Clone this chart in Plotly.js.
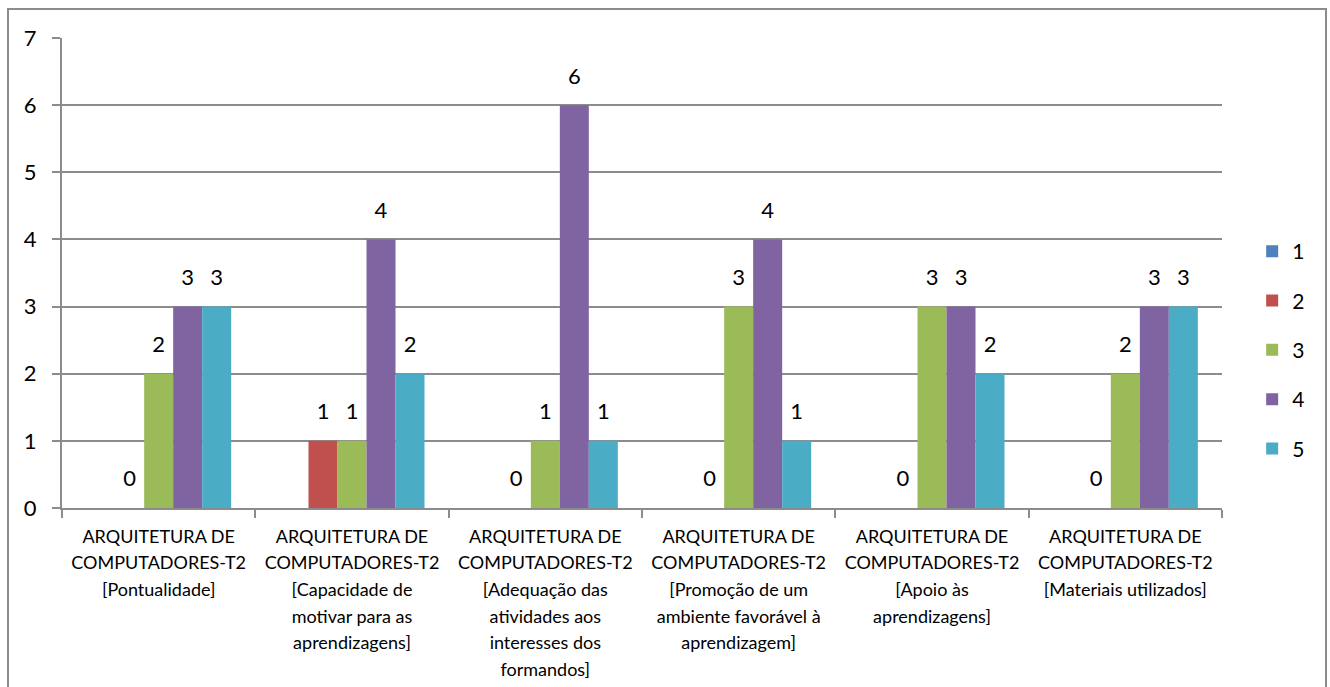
<!DOCTYPE html>
<html>
<head>
<meta charset="utf-8">
<script src="https://cdn.plot.ly/plotly-3.0.1.min.js"></script>
<style>
  html, body { margin: 0; padding: 0; background: #fff; }
  #wrap { position: relative; width: 1330px; height: 687px; overflow: hidden; }
  #chart { width: 1330px; height: 687px; }
  #frame { position: absolute; left: 7px; top: 8px; width: 1316px; height: 700px;
           border: 2px solid #8c8c8c; pointer-events: none; }
</style>
</head>
<body>
<div id="wrap">
  <div id="chart"></div>
  <div id="frame"></div>
</div>
<script>
const categories = [
  "ARQUITETURA DE<br>COMPUTADORES-T2<br>[Pontualidade]",
  "ARQUITETURA DE<br>COMPUTADORES-T2<br>[Capacidade de<br>motivar para as<br>aprendizagens]",
  "ARQUITETURA DE<br>COMPUTADORES-T2<br>[Adequação das<br>atividades aos<br>interesses dos<br>formandos]",
  "ARQUITETURA DE<br>COMPUTADORES-T2<br>[Promoção de um<br>ambiente favorável à<br>aprendizagem]",
  "ARQUITETURA DE<br>COMPUTADORES-T2<br>[Apoio às<br>aprendizagens]",
  "ARQUITETURA DE<br>COMPUTADORES-T2<br>[Materiais utilizados]"
];
const seriesNames = ["1", "2", "3", "4", "5"];
const series1 = [null, null, null, null, null, null];
const series2 = [0, 1, 0, 0, 0, 0];
const series3 = [2, 1, 1, 3, 3, 2];
const series4 = [3, 4, 6, 4, 3, 3];
const series5 = [3, 2, 1, 1, 2, 3];
const yTicks = [0, 1, 2, 3, 4, 5, 6, 7];

const colors = ["#4F81BD", "#C0504D", "#9BBB59", "#8064A2", "#4BACC6"];
const allSeries = [series1, series2, series3, series4, series5];
const FONT = "Lato, 'Open Sans', sans-serif";

// category tick text: glyphs at 18px, line spacing from the 20.5px base font
const catTickText = categories.map(c =>
  c.split("<br>").map(line => "<span style='font-size:18px'>" + line + "</span>").join("<br>")
);

const traces = allSeries.map((vals, i) => ({
  type: "bar",
  name: seriesNames[i],
  x: categories,
  y: vals,
  marker: { color: colors[i], line: { width: 0 } },
  texttemplate: "<span style='font-size:22px'>%{y}</span><br> ",
  textposition: "outside",
  cliponaxis: false,
  constraintext: "none",
  textfont: { family: FONT, size: 12, color: "#000" },
  legendgroup: "g" + i,
  hoverinfo: "x+y+name"
}));

const layout = {
  width: 1330,
  height: 687,
  margin: { l: 62, r: 108, t: 38, b: 179, pad: 0 },
  paper_bgcolor: "#fff",
  plot_bgcolor: "#fff",
  barmode: "group",
  bargap: 0.25,
  bargroupgap: 0,
  font: { family: FONT, color: "#000" },
  showlegend: true,
  legend: {
    x: 1.026, xanchor: "left",
    y: 0.336, yanchor: "middle",
    font: { family: FONT, size: 21, color: "#000" },
    tracegroupgap: 19,
    itemwidth: 30,
    bgcolor: "rgba(0,0,0,0)"
  },
  xaxis: {
    type: "category",
    tickmode: "array",
    tickvals: categories,
    ticktext: catTickText,
    tickson: "boundaries",
    ticks: "outside",
    ticklen: 8,
    tickwidth: 2,
    tickcolor: "#8c8c8c",
    showline: true,
    linecolor: "#8c8c8c",
    linewidth: 2,
    showgrid: false,
    tickangle: 0,
    tickfont: { family: FONT, size: 20.5, color: "#000" },
    ticklabelstandoff: 8,
    automargin: false,
    fixedrange: true
  },
  yaxis: {
    range: [0, 7],
    tickvals: yTicks,
    ticktext: yTicks.map(String),
    ticks: "outside",
    ticklen: 8,
    tickwidth: 2,
    tickcolor: "#8c8c8c",
    showline: true,
    linecolor: "#8c8c8c",
    linewidth: 2,
    showgrid: true,
    gridcolor: "#8c8c8c",
    gridwidth: 2,
    zeroline: false,
    tickfont: { family: FONT, size: 22, color: "#000" },
    ticklabelstandoff: 11,
    automargin: false,
    fixedrange: true
  }
};

Plotly.newPlot("chart", traces, layout, { displayModeBar: false, staticPlot: true });
</script>
</body>
</html>
